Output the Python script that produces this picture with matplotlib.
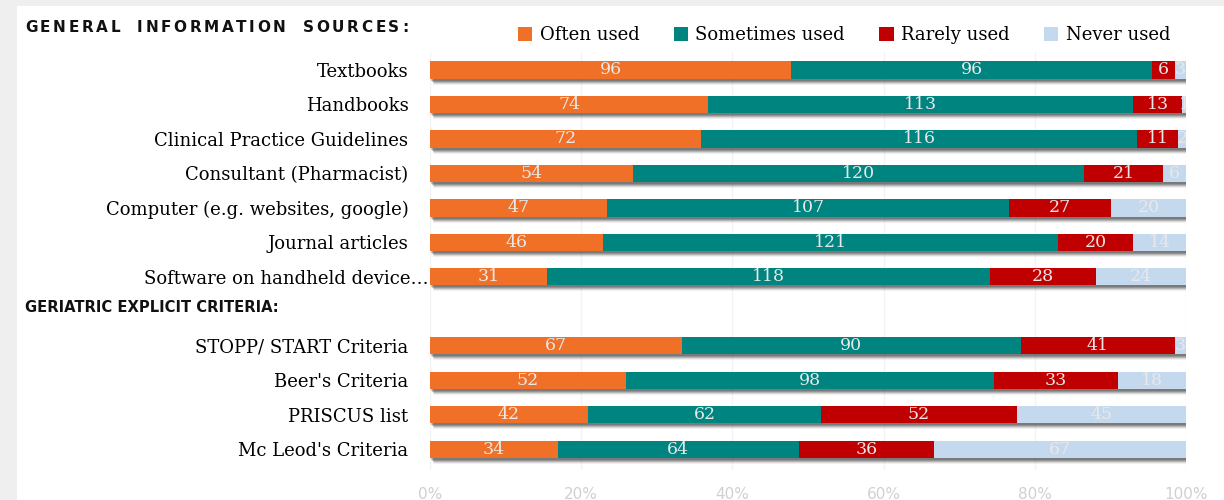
import matplotlib
matplotlib.use("Agg")
import matplotlib.pyplot as plt
import matplotlib.transforms as mtransforms
from matplotlib.patches import Rectangle, Patch
import numpy as np

categories = ["Textbooks", "Handbooks", "Clinical Practice Guidelines",
              "Consultant (Pharmacist)", "Computer (e.g. websites, google)",
              "Journal articles", "Software on handheld device\u2026",
              "STOPP/ START Criteria", "Beer's Criteria", "PRISCUS list",
              "Mc Leod's Criteria"]
series_names = ["Often used", "Sometimes used", "Rarely used", "Never used"]
often = [96, 74, 72, 54, 47, 46, 31, 67, 52, 42, 34]
sometimes = [96, 113, 116, 120, 107, 121, 118, 90, 98, 62, 64]
rarely = [6, 13, 11, 21, 27, 20, 28, 41, 33, 52, 36]
never = [3, 1, 2, 6, 20, 14, 24, 3, 18, 45, 67]
xtick_labels = ["0%", "20%", "40%", "60%", "80%", "100%"]
header1 = "GENERAL INFORMATION SOURCES"
header2 = "GERIATRIC EXPLICIT CRITERIA"

colors = ["#F07027", "#00847F", "#C00000", "#C5D9EE"]

W, H = 1224, 500
fig = plt.figure(figsize=(W / 100, H / 100), dpi=100)
fig.patch.set_facecolor("#efefef")
fig.patches.append(Rectangle((17 / W, 0), 1 - 17 / W, 1 - 6 / H, transform=fig.transFigure,
                             facecolor="white", edgecolor="none", zorder=-5))

ax = fig.add_axes([430 / W, 30 / H, 756 / W, 418 / H])
ax.set_facecolor("none")

# y positions: 7 general items, a gap, 4 geriatric items
ypos = np.array(list(range(7)) + list(range(8, 12)), dtype=float)

data = np.array([often, sometimes, rarely, never], dtype=float)
totals = data.sum(axis=0)
pct = data / totals

# shadow under each full bar (blurred by stacking)
full = pct.sum(axis=0)
for dx, dy, a in [(1, -2, 0.25), (2, -3, 0.25), (3, -4, 0.2), (4, -5, 0.12), (3, -6, 0.07)]:
    tr = ax.transData + mtransforms.ScaledTranslation(dx / 100, dy / 100, fig.dpi_scale_trans)
    ax.barh(ypos, full, height=0.5, color="#303030", alpha=a, transform=tr, zorder=1,
            linewidth=0)

left = np.zeros(len(categories))
for i, name in enumerate(series_names):
    cont = ax.barh(ypos, pct[i], left=left, height=0.5, color=colors[i], label=name,
                   zorder=3, linewidth=0)
    ax.bar_label(cont, labels=[str(int(v)) for v in data[i]], label_type="center",
                 color="#e8e8e8", fontfamily="DejaVu Serif", fontsize=12.5, zorder=4)
    left += pct[i]

ax.set_xlim(0, 1)
ax.set_ylim(11.6, -0.52)
ax.set_xticks(np.linspace(0, 1, 6))
ax.set_xticklabels(xtick_labels, color="#d0d0d0", fontsize=11,
                   fontfamily=["Liberation Sans Narrow", "DejaVu Sans"])
ax.tick_params(axis="x", length=0, pad=12)
ax.set_yticks(ypos)
ax.set_yticklabels(categories, fontfamily="DejaVu Serif", fontsize=13, color="black")
ax.tick_params(axis="y", length=0, pad=15.5)
# the truncated label sits right against the bar in the original
soft_lbl = ax.get_yticklabels()[6]
soft_lbl.set_transform(soft_lbl.get_transform() +
                       mtransforms.ScaledTranslation(0.2, 0, fig.dpi_scale_trans))
ax.grid(axis="x", color="#f3f3f3", linewidth=1, zorder=0)
ax.set_axisbelow(True)
for s in ax.spines.values():
    s.set_visible(False)

# header 1 with wide letter tracking
renderer = fig.canvas.get_renderer()
chars = list(header1 + ":")
x_start, x_end = 25, 408
hfs = 11
tmp = [fig.text(0, 0, c, fontsize=hfs, fontweight="bold", family="DejaVu Sans") for c in chars]
widths = [t.get_window_extent(renderer).width if c != " " else 12 for t, c in zip(tmp, chars)]
for t in tmp:
    t.remove()
extra = (x_end - x_start - sum(widths)) / (len(chars) - 1)
x = x_start
for c, w in zip(chars, widths):
    if c != " ":
        fig.text(x / W, 1 - 28 / H, c, fontsize=hfs, fontweight="bold", color="#111111",
                 va="center", ha="left", family="DejaVu Sans")
    x += w + extra

fig.text(25 / W, 1 - 308 / H, header2 + ":", fontsize=10.6, fontweight="bold", color="#111111",
         va="center", ha="left", family="DejaVu Sans")

handles = [Patch(facecolor=c, edgecolor="none") for c in colors]
fig.legend(handles, series_names, loc="center", bbox_to_anchor=(844 / W, 1 - 35 / H),
           ncol=4, frameon=False, handlelength=0.8, handleheight=0.8, handletextpad=0.4,
           columnspacing=1.9, prop=dict(family="DejaVu Serif", size=13))

fig.savefig("out.png", dpi=100)
